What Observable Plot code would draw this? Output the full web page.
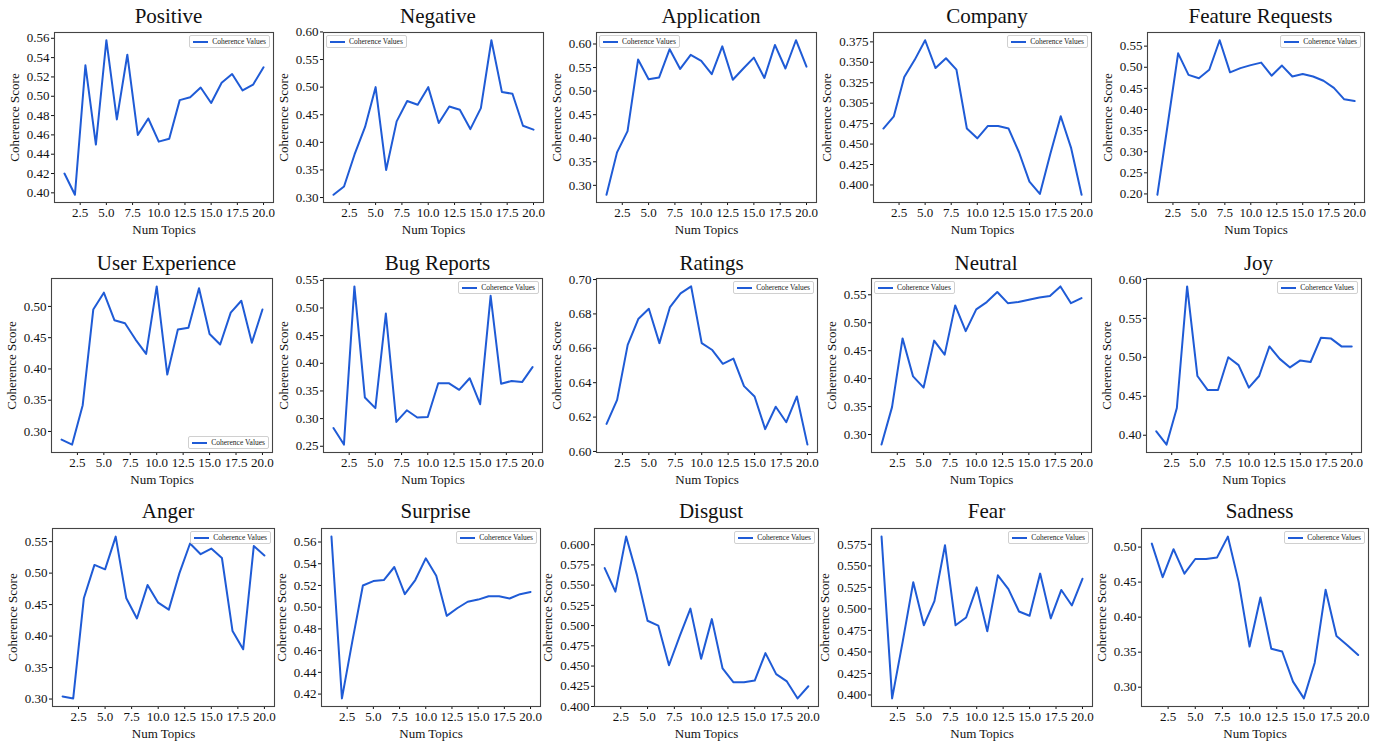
<!DOCTYPE html>
<html>
<head>
<meta charset="utf-8">
<script src="https://cdn.jsdelivr.net/npm/d3@7"></script>
<script src="https://cdn.jsdelivr.net/npm/@observablehq/plot@0.6"></script>
<style>
  html, body { margin: 0; padding: 0; background: #fff; }
  #root { position: relative; width: 1382px; height: 742px; overflow: hidden; background: #fff; }
  .panel { position: absolute; }
  .title { position: absolute; font-family: "Liberation Serif", serif; font-size: 21px; color: #111; text-align: center; line-height: 24px; height: 24px; white-space: nowrap; }
  .leg { position: absolute; height: 11px; padding: 0 3px; border: 1px solid #d0d0d0; border-radius: 2px; background: #fff;
         font-family: "Liberation Serif", serif; font-size: 7.5px; color: #222; display: flex; align-items: center; gap: 4px; white-space: nowrap; }
  .sw { display: inline-block; width: 15px; border-top: 2px solid #1f5bd6; }
</style>
</head>
<body>
<div id="root"></div>
<script>
// ---------- data ----------
const numTopics = [1,2,3,4,5,6,7,8,9,10,11,12,13,14,15,16,17,18,19,20];
const xTickValues = [2.5,5,7.5,10,12.5,15,17.5,20];

const positive = [0.420,0.398,0.532,0.450,0.558,0.476,0.543,0.460,0.477,0.453,0.456,0.496,0.499,0.509,0.493,0.514,0.523,0.506,0.512,0.530];
const negative = [0.305,0.320,0.378,0.428,0.500,0.350,0.438,0.475,0.468,0.500,0.435,0.465,0.459,0.424,0.462,0.585,0.491,0.488,0.430,0.423];
const application = [0.280,0.370,0.415,0.567,0.525,0.529,0.589,0.547,0.577,0.564,0.536,0.595,0.524,0.548,0.571,0.528,0.598,0.548,0.608,0.552];
const company = [0.469,0.484,0.532,0.553,0.577,0.543,0.555,0.541,0.469,0.457,0.472,0.472,0.469,0.440,0.404,0.389,0.438,0.484,0.445,0.388];
const featureRequests = [0.198,0.365,0.533,0.482,0.474,0.494,0.564,0.488,0.498,0.505,0.511,0.480,0.504,0.478,0.484,0.478,0.468,0.451,0.424,0.420];
const userExperience = [0.287,0.279,0.342,0.495,0.522,0.478,0.473,0.447,0.424,0.532,0.391,0.463,0.466,0.529,0.456,0.439,0.490,0.509,0.442,0.495];
const bugReports = [0.283,0.253,0.539,0.338,0.319,0.490,0.294,0.315,0.302,0.303,0.364,0.364,0.352,0.373,0.326,0.522,0.363,0.368,0.366,0.393];
const ratings = [0.616,0.630,0.662,0.677,0.683,0.663,0.684,0.692,0.696,0.663,0.659,0.651,0.654,0.638,0.632,0.613,0.626,0.617,0.632,0.604];
const neutral = [0.282,0.349,0.472,0.404,0.384,0.468,0.443,0.531,0.485,0.524,0.537,0.555,0.535,0.537,0.541,0.545,0.548,0.565,0.535,0.544];
const joy = [0.405,0.388,0.435,0.591,0.476,0.458,0.458,0.500,0.490,0.461,0.476,0.514,0.498,0.487,0.496,0.494,0.525,0.524,0.514,0.514];
const anger = [0.304,0.301,0.460,0.513,0.506,0.558,0.460,0.428,0.481,0.453,0.442,0.500,0.547,0.530,0.539,0.524,0.408,0.379,0.543,0.528];
const surprise = [0.565,0.416,0.469,0.520,0.524,0.525,0.537,0.512,0.525,0.545,0.529,0.492,0.499,0.505,0.507,0.510,0.510,0.508,0.512,0.514];
const disgust = [0.571,0.542,0.610,0.563,0.506,0.500,0.451,0.487,0.521,0.459,0.508,0.447,0.430,0.430,0.432,0.466,0.440,0.431,0.410,0.425];
const fear = [0.584,0.396,0.462,0.531,0.481,0.509,0.574,0.481,0.490,0.525,0.474,0.539,0.523,0.497,0.492,0.541,0.489,0.522,0.504,0.535];
const sadness = [0.505,0.457,0.497,0.462,0.483,0.483,0.485,0.515,0.450,0.358,0.428,0.355,0.351,0.308,0.284,0.335,0.439,0.373,0.360,0.346];

// y tick values
const positiveTicks = [0.40,0.42,0.44,0.46,0.48,0.50,0.52,0.54,0.56];
const negativeTicks = [0.30,0.35,0.40,0.45,0.50,0.55,0.60];
const applicationTicks = [0.30,0.35,0.40,0.45,0.50,0.55,0.60];
const companyTicks = [0.400,0.425,0.450,0.475,0.500,0.525,0.550,0.575];
const companyTickLabels = ["0.400","0.425","0.450","0.475","0.305","0.325","0.350","0.375"];
const featureTicks = [0.20,0.25,0.30,0.35,0.40,0.45,0.50,0.55];
const userExperienceTicks = [0.30,0.35,0.40,0.45,0.50];
const bugReportsTicks = [0.25,0.30,0.35,0.40,0.45,0.50,0.55];
const ratingsTicks = [0.60,0.62,0.64,0.66,0.68,0.70];
const neutralTicks = [0.30,0.35,0.40,0.45,0.50,0.55];
const joyTicks = [0.40,0.45,0.50,0.55,0.60];
const angerTicks = [0.30,0.35,0.40,0.45,0.50,0.55];
const surpriseTicks = [0.42,0.44,0.46,0.48,0.50,0.52,0.54,0.56];
const disgustTicks = [0.400,0.425,0.450,0.475,0.500,0.525,0.550,0.575,0.600];
const fearTicks = [0.400,0.425,0.450,0.475,0.500,0.525,0.550,0.575];
const sadnessTicks = [0.30,0.35,0.40,0.45,0.50];

const titles = ["Positive","Negative","Application","Company","Feature Requests",
                "User Experience","Bug Reports","Ratings","Neutral","Joy",
                "Anger","Surprise","Disgust","Fear","Sadness"];
const seriesList = [positive,negative,application,company,featureRequests,
                    userExperience,bugReports,ratings,neutral,joy,
                    anger,surprise,disgust,fear,sadness];
const tickList = [positiveTicks,negativeTicks,applicationTicks,companyTicks,featureTicks,
                  userExperienceTicks,bugReportsTicks,ratingsTicks,neutralTicks,joyTicks,
                  angerTicks,surpriseTicks,disgustTicks,fearTicks,sadnessTicks];
const legendPos = ["ur","ul","ul","ur","ur","lr","ur","ur","ul","ur","ur","ur","ur","ur","ur"];

// ---------- layout (frame boxes) ----------
const rowTB = [[32,202],[278,452],[528,706]];
const titleY = [16,263,511];
const colLR = [
  [[54,273],[323,543],[596,816],[873,1091],[1147,1364]],
  [[51,272],[323,542],[596,817],[871,1091],[1146,1361]],
  [[52,274],[321,540],[594,818],[871,1092],[1141,1368]]
];
const LINE = "#1f5bd6";
const root = document.getElementById("root");

function pad(ext) { const r = ext[1]-ext[0]; return [ext[0]-0.05*r, ext[1]+0.05*r]; }

seriesList.forEach((vals, i) => {
  const row = Math.floor(i/5), col = i%5;
  const [L, R] = colLR[row][col];
  const [T, B] = rowTB[row];
  const ticks = tickList[i];
  const threeDec = ticks.some(t => Math.abs(t*100 - Math.round(t*100)) > 1e-6) || i === 3;
  const fmt = i === 3 ? (d => companyTickLabels[companyTicks.indexOf(d)]) : d3.format(threeDec ? ".3f" : ".2f");
  const mL = 66, mR = 4, mT = 4, mB = 36;
  const data = numTopics.map((t, k) => ({topics: t, score: vals[k]}));
  const chart = Plot.plot({
    width: (R-L) + mL + mR,
    height: (B-T) + mT + mB,
    marginLeft: mL, marginRight: mR, marginTop: mT, marginBottom: mB,
    style: {fontFamily: "Liberation Serif, serif", fontSize: "13px", color: "#111", background: "transparent", overflow: "visible"},
    x: {domain: pad(d3.extent(numTopics)), ticks: xTickValues, tickFormat: d3.format(".1f"),
        label: "Num Topics", labelAnchor: "center", labelOffset: 31, labelArrow: "none", tickSize: 3, tickPadding: 2},
    y: {domain: pad(d3.extent(vals)), ticks: ticks, tickFormat: fmt,
        label: "Coherence Score", labelAnchor: "center", labelOffset: threeDec ? 52 : 45, labelArrow: "none", tickSize: 3, tickPadding: 2},
    marks: [
      Plot.frame({stroke: "#444", strokeWidth: 1.1}),
      Plot.line(data, {x: "topics", y: "score", stroke: LINE, strokeWidth: 2})
    ]
  });
  const wrap = document.createElement("div");
  wrap.className = "panel";
  wrap.style.left = (L - mL) + "px";
  wrap.style.top = (T - mT) + "px";
  wrap.appendChild(chart);
  root.appendChild(wrap);

  const title = document.createElement("div");
  title.className = "title";
  title.textContent = titles[i];
  title.style.left = (L + 5) + "px";
  title.style.width = (R - L) + "px";
  title.style.top = (titleY[row] - 12) + "px";
  root.appendChild(title);

  const leg = document.createElement("div");
  leg.className = "leg";
  leg.innerHTML = '<span class="sw"></span><span>Coherence Values</span>';
  const p = legendPos[i];
  if (p === "ul") { leg.style.left = (L + 3) + "px"; leg.style.top = (T + 3) + "px"; }
  else if (p === "ur") { leg.style.right = (1382 - R + 3) + "px"; leg.style.top = (T + 3) + "px"; }
  else { leg.style.right = (1382 - R + 3) + "px"; leg.style.top = (B - 16) + "px"; }
  root.appendChild(leg);
});
</script>
</body>
</html>
